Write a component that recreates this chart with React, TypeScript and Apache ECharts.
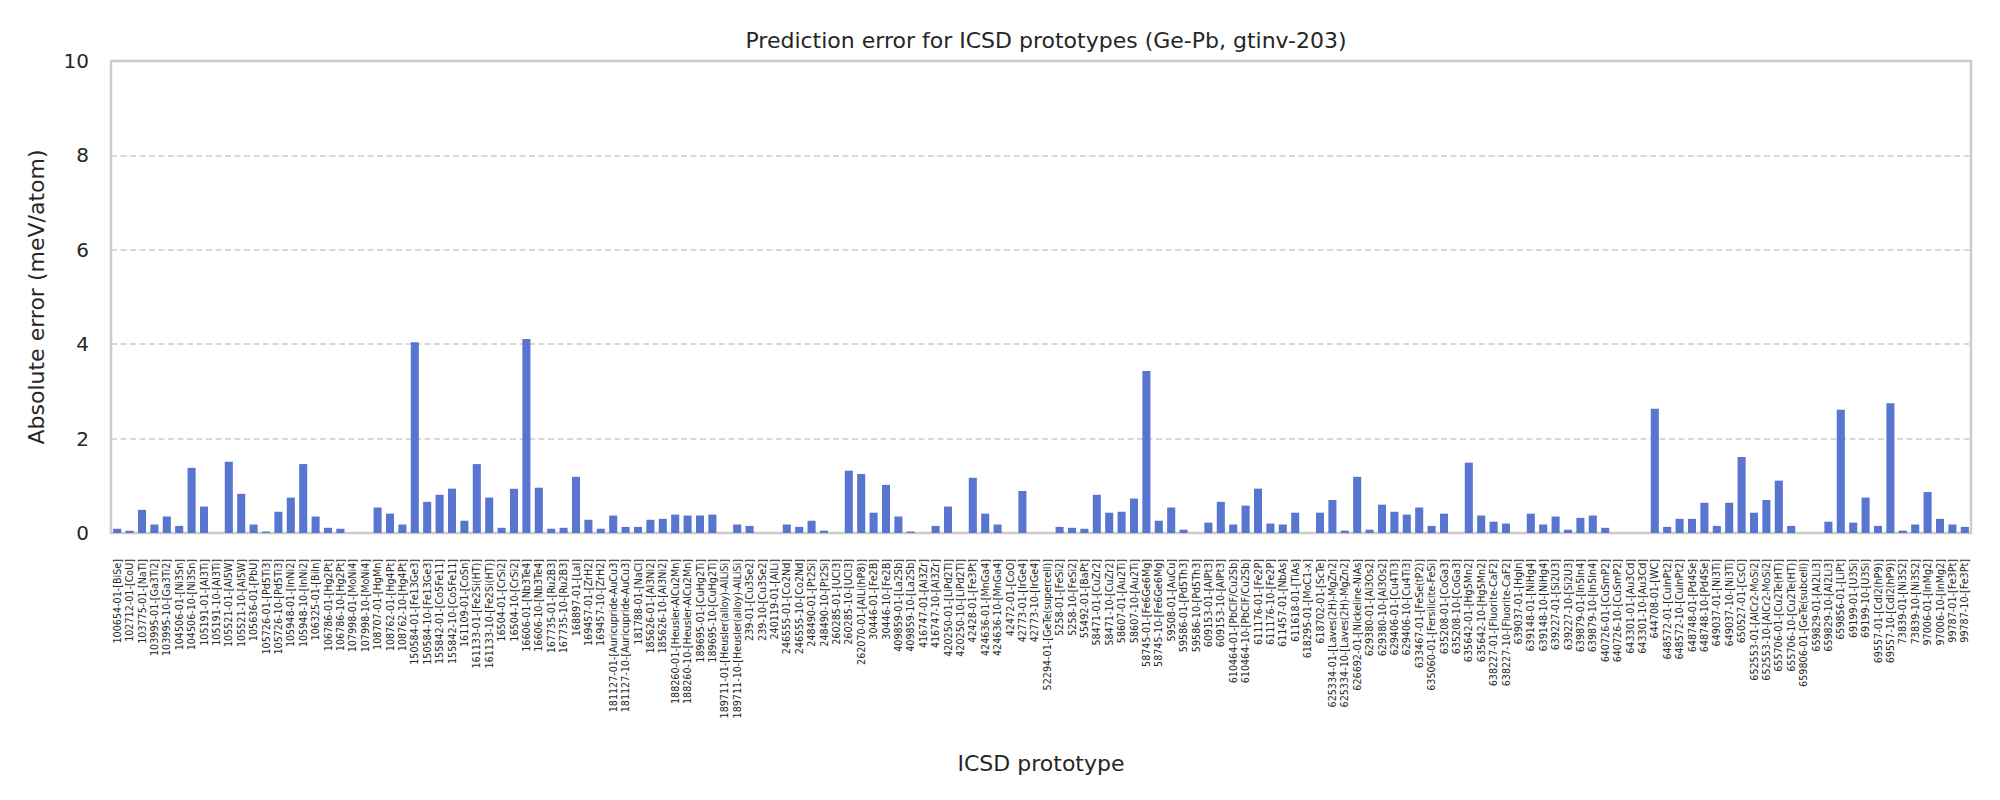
import React, { useEffect, useRef } from "react";
import * as echarts from "echarts";

const categories: string[] = [
  "100654-01-[BiSe]", "102712-01-[CoU]", "103775-01-[NaTl]", "103995-01-[Ga3Ti2]", "103995-10-[Ga3Ti2]",
  "104506-01-[Ni3Sn]", "104506-10-[Ni3Sn]", "105191-01-[Al3Ti]", "105191-10-[Al3Ti]", "105521-01-[Al5W]",
  "105521-10-[Al5W]", "105636-01-[PbU]", "105726-01-[Pd5Ti3]", "105726-10-[Pd5Ti3]", "105948-01-[InNi2]",
  "105948-10-[InNi2]", "106325-01-[BiIn]", "106786-01-[Hg2Pt]", "106786-10-[Hg2Pt]", "107998-01-[MoNi4]",
  "107998-10-[MoNi4]", "108707-01-[HgMn]", "108762-01-[Hg4Pt]", "108762-10-[Hg4Pt]", "150584-01-[Fe13Ge3]",
  "150584-10-[Fe13Ge3]", "155842-01-[Co5Fe11]", "155842-10-[Co5Fe11]", "161109-01-[CoSn]", "161133-01-[Fe2Si(HT)]",
  "161133-10-[Fe2Si(HT)]", "16504-01-[CrSi2]", "16504-10-[CrSi2]", "16606-01-[Nb3Te4]", "16606-10-[Nb3Te4]",
  "167735-01-[Ru2B3]", "167735-10-[Ru2B3]", "168897-01-[LaI]", "169457-01-[ZrH2]", "169457-10-[ZrH2]",
  "181127-01-[Auricupride-AuCu3]", "181127-10-[Auricupride-AuCu3]", "181788-01-[NaCl]", "185626-01-[Al3Ni2]", "185626-10-[Al3Ni2]",
  "188260-01-[Heusler-AlCu2Mn]", "188260-10-[Heusler-AlCu2Mn]", "189695-01-[CuHg2Ti]", "189695-10-[CuHg2Ti]", "189711-01-[Heusler(alloy)-AlLiSi]",
  "189711-10-[Heusler(alloy)-AlLiSi]", "239-01-[Cu3Se2]", "239-10-[Cu3Se2]", "240119-01-[AlLi]", "246555-01-[Co2Nd]",
  "246555-10-[Co2Nd]", "248490-01-[Pt2Si]", "248490-10-[Pt2Si]", "260285-01-[UCl3]", "260285-10-[UCl3]",
  "262070-01-[AlLi(hP8)]", "30446-01-[Fe2B]", "30446-10-[Fe2B]", "409859-01-[La2Sb]", "409859-10-[La2Sb]",
  "416747-01-[Al3Zr]", "416747-10-[Al3Zr]", "420250-01-[LiPd2Tl]", "420250-10-[LiPd2Tl]", "42428-01-[Fe3Pt]",
  "424636-01-[MnGa4]", "424636-10-[MnGa4]", "42472-01-[CoO]", "42773-01-[IrGe4]", "42773-10-[IrGe4]",
  "52294-01-[GeTe(supercell)]", "5258-01-[FeSi2]", "5258-10-[FeSi2]", "55492-01-[BaPt]", "58471-01-[CuZr2]",
  "58471-10-[CuZr2]", "58607-01-[Au2Ti]", "58607-10-[Au2Ti]", "58745-01-[Fe6Ge6Mg]", "58745-10-[Fe6Ge6Mg]",
  "59508-01-[AuCu]", "59586-01-[Pd5Th3]", "59586-10-[Pd5Th3]", "609153-01-[AlPt3]", "609153-10-[AlPt3]",
  "610464-01-[PbClF/Cu2Sb]", "610464-10-[PbClF/Cu2Sb]", "611176-01-[Fe2P]", "611176-10-[Fe2P]", "611457-01-[NbAs]",
  "611618-01-[TiAs]", "618295-01-[MoC1-x]", "618702-01-[ScTe]", "625334-01-[Laves(2H)-MgZn2]", "625334-10-[Laves(2H)-MgZn2]",
  "626692-01-[Nickeline-NiAs]", "629380-01-[Al3Os2]", "629380-10-[Al3Os2]", "629406-01-[Cu4Ti3]", "629406-10-[Cu4Ti3]",
  "633467-01-[FeSe(tP2)]", "635060-01-[Fersilicite-FeSi]", "635208-01-[CoGa3]", "635208-10-[CoGa3]", "635642-01-[Hg5Mn2]",
  "635642-10-[Hg5Mn2]", "638227-01-[Fluorite-CaF2]", "638227-10-[Fluorite-CaF2]", "639037-01-[HgIn]", "639148-01-[NiHg4]",
  "639148-10-[NiHg4]", "639227-01-[Si2U3]", "639227-10-[Si2U3]", "639879-01-[In5In4]", "639879-10-[In5In4]",
  "640726-01-[CuSmP2]", "640726-10-[CuSmP2]", "643301-01-[Au3Cd]", "643301-10-[Au3Cd]", "644708-01-[WC]",
  "648572-01-[CuInPt2]", "648572-10-[CuInPt2]", "648748-01-[Pd4Se]", "648748-10-[Pd4Se]", "649037-01-[Ni3Ti]",
  "649037-10-[Ni3Ti]", "650527-01-[CsCl]", "652553-01-[AlCr2-MoSi2]", "652553-10-[AlCr2-MoSi2]", "655706-01-[Cu2Te(HT)]",
  "655706-10-[Cu2Te(HT)]", "659806-01-[GeTe(subcell)]", "659829-01-[Al2Li3]", "659829-10-[Al2Li3]", "659856-01-[LiPt]",
  "69199-01-[U3Si]", "69199-10-[U3Si]", "69557-01-[CdI2(hP9)]", "69557-10-[CdI2(hP9)]", "73839-01-[Ni3S2]",
  "73839-10-[Ni3S2]", "97006-01-[InMg2]", "97006-10-[InMg2]", "99787-01-[Fe3Pt]", "99787-10-[Fe3Pt]",
];

const errors: number[] = [
  0.09, 0.05, 0.49, 0.18, 0.35,
  0.15, 1.38, 0.56, 0.0, 1.51,
  0.83, 0.18, 0.03, 0.45, 0.75,
  1.46, 0.35, 0.11, 0.09, 0.0,
  0.0, 0.54, 0.41, 0.18, 4.04,
  0.66, 0.81, 0.94, 0.26, 1.46,
  0.75, 0.11, 0.94, 4.11, 0.96,
  0.09, 0.11, 1.19, 0.28, 0.09,
  0.37, 0.13, 0.13, 0.28, 0.30,
  0.39, 0.37, 0.37, 0.39, 0.0,
  0.18, 0.15, 0.0, 0.0, 0.18,
  0.13, 0.26, 0.05, 0.0, 1.32,
  1.25, 0.43, 1.02, 0.35, 0.03,
  0.0, 0.15, 0.56, 0.0, 1.17,
  0.41, 0.18, 0.0, 0.89, 0.0,
  0.0, 0.13, 0.11, 0.09, 0.81,
  0.43, 0.45, 0.73, 3.43, 0.26,
  0.54, 0.07, 0.0, 0.22, 0.66,
  0.18, 0.58, 0.94, 0.20, 0.18,
  0.43, 0.0, 0.43, 0.70, 0.05,
  1.19, 0.07, 0.60, 0.45, 0.39,
  0.54, 0.15, 0.41, 0.0, 1.49,
  0.37, 0.24, 0.20, 0.0, 0.41,
  0.18, 0.35, 0.07, 0.32, 0.37,
  0.11, 0.0, 0.0, 0.0, 2.63,
  0.13, 0.30, 0.30, 0.64, 0.15,
  0.64, 1.61, 0.43, 0.70, 1.11,
  0.15, 0.0, 0.0, 0.24, 2.61,
  0.22, 0.75, 0.15, 2.75, 0.05,
  0.18, 0.87, 0.30, 0.18, 0.13,
];

const yTicks = { min: 0, max: 10, interval: 2 };

const FONT = "DejaVu Sans";
const TEXT = "#262626";
const GRIDC = "#cccccc";

export default function App() {
  const ref = useRef<HTMLDivElement>(null);
  useEffect(() => {
    if (!ref.current) return;
    const chart = echarts.init(ref.current, null, { renderer: "svg" });
    chart.setOption({
      animation: false,
      backgroundColor: "#ffffff",
      textStyle: { fontFamily: FONT },
      title: {
        text: "Prediction error for ICSD prototypes (Ge-Pb, gtinv-203)",
        left: 1041,
        top: 24,
        textAlign: "center",
        textStyle: { fontFamily: FONT, fontSize: 22, fontWeight: "normal", color: TEXT },
      },
      grid: {
        left: 111,
        right: 29,
        top: 61,
        bottom: 267,
        show: true,
        borderColor: GRIDC,
        borderWidth: 2.5,
        backgroundColor: "transparent",
      },
      xAxis: {
        type: "category",
        data: categories,
        name: "ICSD prototype",
        nameLocation: "middle",
        nameGap: 219,
        nameTextStyle: { fontFamily: FONT, fontSize: 22, color: TEXT },
        axisLine: { show: false },
        axisTick: { show: false },
        axisLabel: {
          interval: 0,
          rotate: 90,
          margin: 26,
          fontFamily: FONT,
          fontSize: 9.6,
          color: TEXT,
        },
      },
      yAxis: {
        type: "value",
        min: yTicks.min,
        max: yTicks.max,
        interval: yTicks.interval,
        name: "Absolute error (meV/atom)",
        nameLocation: "middle",
        nameGap: 64,
        nameTextStyle: { fontFamily: FONT, fontSize: 22, color: TEXT },
        axisLine: { show: false },
        axisTick: { show: false },
        axisLabel: { margin: 22, fontFamily: FONT, fontSize: 20, color: TEXT },
        splitLine: { show: true, lineStyle: { color: GRIDC, width: 1.5, type: [6, 3.5] } },
      },
      series: [
        {
          type: "bar",
          data: errors,
          barWidth: "65%",
          itemStyle: { color: "#5875CF" },
        },
      ],
    });
    return () => chart.dispose();
  }, []);
  return (
    <div
      ref={ref}
      style={{ position: "fixed", left: 0, top: 0, width: 2000, height: 800 }}
    />
  );
}
